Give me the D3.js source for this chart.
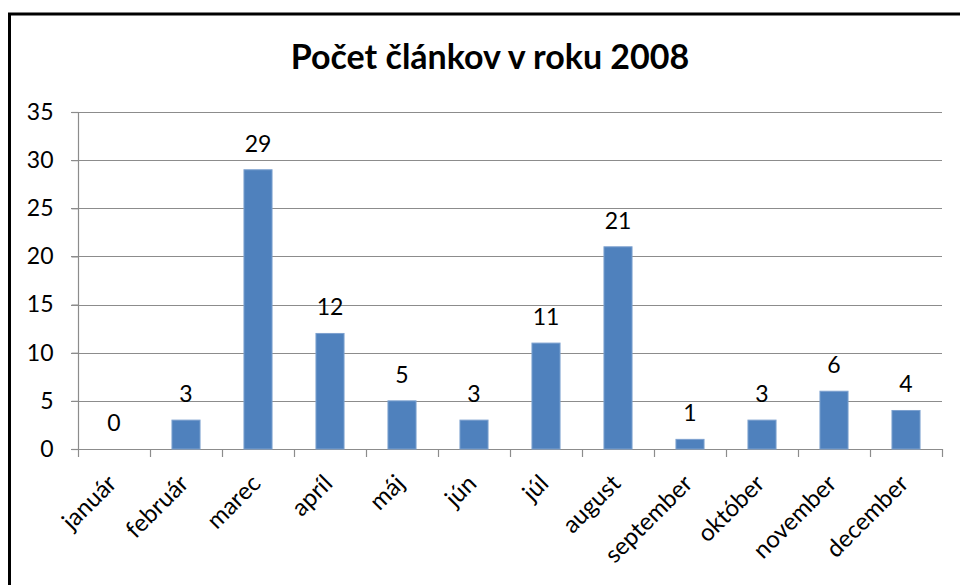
<!DOCTYPE html>
<html>
<head>
<meta charset="utf-8">
<script src="https://cdn.jsdelivr.net/npm/d3@7"></script>
<style>
  body { margin: 0; background: #fff; }
  text { font-family: Lato, "Open Sans", sans-serif; fill: #000; }
</style>
</head>
<body>
<div id="chart"></div>
<script>
'use strict'

var width = 960;
var height = 585;
var titleText = 'Počet článkov v roku 2008';
var months = ['január', 'február', 'marec', 'apríl', 'máj', 'jún', 'júl', 'august', 'september', 'október', 'november', 'december'];
var counts = [0, 3, 29, 12, 5, 3, 11, 21, 1, 3, 6, 4];
var yTicks = [0, 5, 10, 15, 20, 25, 30, 35];

var plotLeft = 78, plotRight = 942, plotTop = 112, plotBottom = 449;

var svg = d3.select('#chart').append('svg')
  .attr('width', width)
  .attr('height', height);

//outer frame, cut off at the right and bottom
svg.append('rect')
  .attr('x', 9.5).attr('y', 14)
  .attr('width', 1000).attr('height', 700)
  .attr('fill', 'none')
  .attr('stroke', '#000')
  .attr('stroke-width', 3);

svg.append('text')
  .attr('x', 490).attr('y', 69)
  .attr('text-anchor', 'middle')
  .style('font-size', '34px')
  .style('font-weight', 'bold')
  .text(titleText);

var x = d3.scaleBand()
  .domain(months)
  .range([plotLeft, plotRight])
  .paddingInner(0.61)
  .paddingOuter(0.305);

var y = d3.scaleLinear()
  .domain([0, 35])
  .range([plotBottom, plotTop]);

//gridlines
svg.append('g').selectAll('line')
  .data(yTicks.filter(function(d){ return d > 0; }))
  .enter().append('line')
  .attr('x1', plotLeft - 7).attr('x2', plotRight)
  .attr('y1', function(d){ return Math.round(y(d)) + 0.5; })
  .attr('y2', function(d){ return Math.round(y(d)) + 0.5; })
  .attr('stroke', '#8c8c8c')
  .attr('stroke-width', 1.2);

//y axis
var yAxis = svg.append('g')
  .attr('transform', 'translate(' + (plotLeft + 0.5) + ',0)')
  .call(d3.axisLeft(y).tickValues(yTicks).tickSize(7).tickPadding(18));
yAxis.selectAll('line, path').attr('stroke', '#8c8c8c').attr('stroke-width', 1.2);
yAxis.select('.domain').attr('d', 'M0,' + plotTop + 'V' + plotBottom);
yAxis.selectAll('text').style('font-size', '23px').style('font-family', 'Lato, sans-serif').attr('fill', '#000');

//x axis with ticks between categories
var xAxisG = svg.append('g');
xAxisG.append('line')
  .attr('x1', plotLeft - 7).attr('x2', plotRight)
  .attr('y1', plotBottom + 0.5).attr('y2', plotBottom + 0.5)
  .attr('stroke', '#8c8c8c').attr('stroke-width', 1.2);
var step = x.step();
xAxisG.selectAll('.tick')
  .data(d3.range(months.length + 1))
  .enter().append('line')
  .attr('x1', function(i){ return Math.round(plotLeft + i * step) + 0.5; })
  .attr('x2', function(i){ return Math.round(plotLeft + i * step) + 0.5; })
  .attr('y1', plotBottom).attr('y2', plotBottom + 8)
  .attr('stroke', '#8c8c8c').attr('stroke-width', 1.2);

xAxisG.selectAll('text')
  .data(months)
  .enter().append('text')
  .attr('transform', function(d){
    var cx = x(d) + x.bandwidth() / 2 + 4;
    return 'translate(' + cx + ',' + (plotBottom + 36) + ') rotate(-45)';
  })
  .attr('text-anchor', 'end')
  .style('font-size', '24px')
  .text(function(d){ return d; });

//bars
svg.append('g').selectAll('rect')
  .data(counts)
  .enter().append('rect')
  .attr('x', function(d, i){ return x(months[i]); })
  .attr('y', function(d){ return y(d); })
  .attr('width', x.bandwidth())
  .attr('height', function(d){ return plotBottom - y(d); })
  .attr('fill', '#4f81bd')
  .attr('stroke', '#7da1cf')
  .attr('stroke-width', 1);

//value labels
svg.append('g').selectAll('text')
  .data(counts)
  .enter().append('text')
  .attr('x', function(d, i){ return x(months[i]) + x.bandwidth() / 2; })
  .attr('y', function(d){ return y(d) - 18; })
  .attr('text-anchor', 'middle')
  .style('font-size', '23px')
  .text(function(d){ return d; });
</script>
</body>
</html>
